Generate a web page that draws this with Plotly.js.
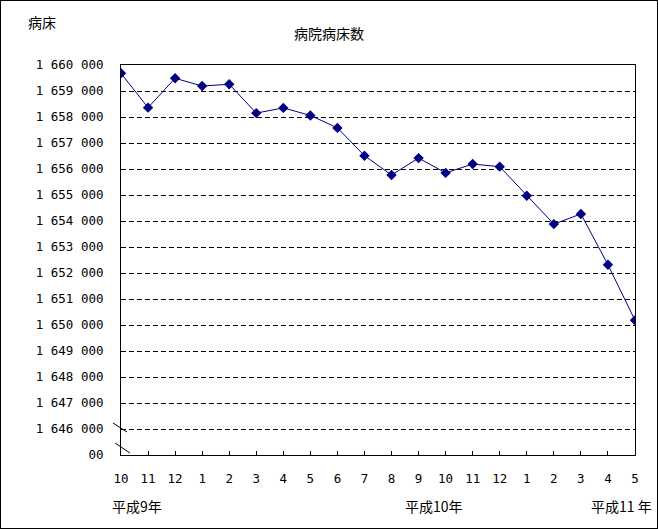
<!DOCTYPE html>
<html>
<head>
<meta charset="utf-8">
<script src="https://cdn.plot.ly/plotly-3.0.1.min.js"></script>
<style>
html,body{margin:0;padding:0;background:#fff;}
#chart{position:absolute;left:0;top:0;width:658px;height:530px;}
#frame{position:absolute;left:0;top:0;width:658px;height:529px;border:1px solid #000;box-sizing:border-box;pointer-events:none;}
</style>
</head>
<body>
<div id="chart"></div>
<div id="frame"></div>
<script>
// Month labels (平成9年10月 〜 平成11年5月)
const months = ["10","11","12","1","2","3","4","5","6","7","8","9","10","11","12","1","2","3","4","5"];
// 病院病床数
const beds = [1659680,1658360,1659490,1659190,1659260,1658150,1658350,1658060,1657580,1656510,
              1655770,1656420,1655850,1656190,1656090,1654970,1653880,1654270,1652320,1650180];
// y-axis ticks (broken axis: bottom label "00")
const yTickVals = [1645000,1646000,1647000,1648000,1649000,1650000,1651000,1652000,1653000,1654000,1655000,1656000,1657000,1658000,1659000,1660000];
const yTickText = ["00","1 646 000","1 647 000","1 648 000","1 649 000","1 650 000","1 651 000","1 652 000","1 653 000","1 654 000","1 655 000","1 656 000","1 657 000","1 658 000","1 659 000","1 660 000"];
const eraLabels = ["平成9年","平成10年","平成11 年"];
const eraPos = [0.032, 0.609, 0.973];

const monoFont = {family:"DejaVu Sans Mono, Noto Sans CJK JP, sans-serif", size:12.5, color:"#000"};
const cjkFont = {family:"Noto Sans CJK JP, sans-serif", size:14, color:"#000"};

const xIdx = months.map((m,i)=>i);

const trace = {
  x: xIdx, y: beds, type:"scatter", mode:"lines+markers",
  line:{color:"#000080", width:1},
  marker:{symbol:"diamond", size:8, color:"#000080"},
  hoverinfo:"skip"
};

const annotations = eraLabels.map((t,i)=>({
  text:t, xref:"paper", yref:"paper", x:eraPos[i], y:-0.1295,
  xanchor:"center", yanchor:"middle", showarrow:false, font:cjkFont
}));
annotations.push({text:"病床", xref:"paper", yref:"paper", x:-0.154, y:1.111,
  xanchor:"center", yanchor:"middle", showarrow:false, font:cjkFont});

const layout = {
  width:658, height:530,
  margin:{l:121, r:23, t:65, b:75},
  paper_bgcolor:"rgba(0,0,0,0)", plot_bgcolor:"#fff",
  showlegend:false,
  title:{text:"病院病床数", font:cjkFont, xref:"container", yref:"container", x:0.5, y:0.935, xanchor:"center", yanchor:"middle"},
  xaxis:{
    range:[0,19], tickmode:"array", tickvals:xIdx, ticktext:months,
    showline:true, mirror:true, linecolor:"#000", linewidth:1,
    showgrid:false, zeroline:false,
    ticks:"inside", ticklen:4, tickcolor:"#000",
    tickfont:monoFont, ticklabelstandoff:12
  },
  yaxis:{
    range:[1645000,1660000], tickmode:"array", tickvals:yTickVals, ticktext:yTickText,
    showline:true, mirror:true, linecolor:"#000", linewidth:1,
    showgrid:true, gridcolor:"#000", gridwidth:1, griddash:"5px,3px", zeroline:false,
    ticks:"inside", ticklen:4, tickcolor:"#000",
    tickfont:monoFont, ticklabelstandoff:14
  },
  annotations: annotations,
  shapes:[
    {type:"line", xref:"paper", yref:"paper", x0:-0.0156, y0:0.0821, x1:0.0117, y1:0.059, line:{color:"#000", width:1}},
    {type:"line", xref:"paper", yref:"paper", x0:-0.0117, y0:0.0308, x1:0.0175, y1:0.0051, line:{color:"#000", width:1}}
  ]
};

Plotly.newPlot("chart", [trace], layout, {staticPlot:true, displayModeBar:false});
</script>
</body>
</html>
